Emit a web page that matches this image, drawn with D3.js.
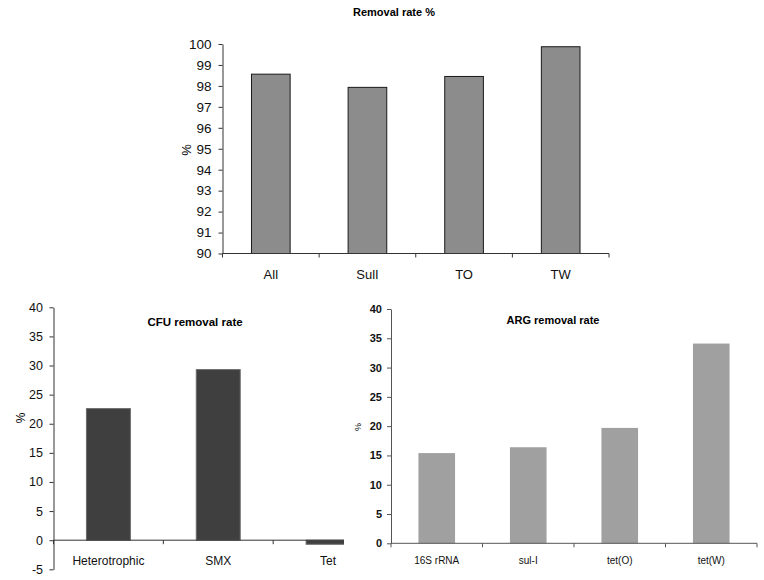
<!DOCTYPE html>
<html>
<head>
<meta charset="utf-8">
<script src="https://cdn.jsdelivr.net/npm/d3@7"></script>
<style>
  body { margin: 0; background: #fff; }
  svg { display: block; font-family: "Liberation Sans", Arial, sans-serif; }
</style>
</head>
<body>
<script>
// removal rate %
const topCats = ["All", "SulI", "TO", "TW"];
const topVals = [98.56, 97.93, 98.45, 99.87];
const topTicks = [90, 91, 92, 93, 94, 95, 96, 97, 98, 99, 100];

// CFU removal rate
const cfuCats = ["Heterotrophic", "SMX", "Tet"];
const cfuVals = [22.6, 29.3, -0.7];
const cfuTicks = [-5, 0, 5, 10, 15, 20, 25, 30, 35, 40];

// ARG removal rate
const argCats = ["16S rRNA", "sul-I", "tet(O)", "tet(W)"];
const argVals = [15.4, 16.4, 19.7, 34.1];
const argTicks = [0, 5, 10, 15, 20, 25, 30, 35, 40];

const width = 764, height = 580;

const svg = d3.select("body").append("svg")
    .attr("width", width)
    .attr("height", height);

svg.append("defs").append("clipPath")
    .attr("id", "clipLeft")
    .append("rect")
      .attr("x", 0).attr("y", 290)
      .attr("width", 344).attr("height", 290);

function panel(g, o) {
  const data = o.cats.map((c, i) => ({name: c, value: o.vals[i]}));

  const x = d3.scaleBand()
      .domain(o.cats)
      .range([o.left, o.right]);

  const y = d3.scaleLinear()
      .domain(o.domain)
      .range([o.bottom, o.top]);

  const base = y(Math.max(o.domain[0], 0));
  const bw = x.bandwidth() * 0.4;

  g.append("g")
    .selectAll("rect")
    .data(data)
    .join("rect")
      .attr("x", d => x(d.name) + (x.bandwidth() - bw) / 2)
      .attr("y", d => Math.min(y(d.value), base))
      .attr("width", bw)
      .attr("height", d => Math.abs(y(d.value) - base))
      .attr("fill", o.fill)
      .attr("stroke", o.stroke || "none")
      .attr("stroke-width", 1);

  // y axis
  g.append("g")
      .attr("transform", `translate(${o.left},0)`)
      .call(d3.axisLeft(y).tickValues(o.ticks).tickFormat(d => String(d))
        .tickSize(4).tickPadding(o.yPad).tickSizeOuter(0))
      .call(g => g.selectAll("text").style("font-size", o.tickFont + "px").attr("fill", "#111").style("font-weight", o.tickWeight || "normal"))
      .call(g => g.selectAll("line,path").attr("stroke", o.axisColor));

  // x baseline with ticks between categories
  g.append("line")
      .attr("x1", o.left).attr("x2", o.right)
      .attr("y1", base).attr("y2", base)
      .attr("stroke", o.axisColor);

  const edges = o.cats.map(c => x(c)).concat([o.right]);
  g.append("g")
    .selectAll("line")
    .data(edges)
    .join("line")
      .attr("x1", d => d).attr("x2", d => d)
      .attr("y1", base).attr("y2", base + 4)
      .attr("stroke", o.axisColor);

  // category labels
  g.append("g")
      .attr("transform", `translate(0,${base})`)
      .call(d3.axisBottom(x).tickSize(0).tickPadding(o.xPad))
      .call(g => g.select(".domain").remove())
      .call(g => g.selectAll("text").style("font-size", o.labelFont + "px").attr("fill", "#111").style("font-weight", o.labelWeight || "normal"));

  g.append("text")
      .attr("x", o.titleX)
      .attr("y", o.titleY)
      .attr("text-anchor", "middle")
      .style("font-size", o.titleFont + "px")
      .style("font-weight", "bold")
      .text(o.title);

  g.append("text")
      .attr("transform", `translate(${o.pctX},${o.pctY}) rotate(-90)`)
      .attr("text-anchor", "middle")
      .style("font-size", o.pctFont + "px")
      .text("%");
}

panel(svg.append("g"), {
  cats: topCats, vals: topVals, ticks: topTicks, domain: [90, 100],
  left: 222.5, right: 609, top: 44, bottom: 253.5,
  fill: "#8c8c8c", stroke: "#1a1a1a", axisColor: "#333",
  tickFont: 13.5, labelFont: 13, yPad: 7, xPad: 16,
  title: "Removal rate %", titleX: 394, titleY: 16, titleFont: 11,
  pctX: 191, pctY: 150, pctFont: 13
});

panel(svg.append("g").attr("clip-path", "url(#clipLeft)"), {
  cats: cfuCats, vals: cfuVals, ticks: cfuTicks, domain: [-5, 40],
  left: 53.5, right: 383, top: 307.3, bottom: 569.3,
  fill: "#3f3f3f", stroke: "#6a6a6a", axisColor: "#333",
  tickFont: 12.5, labelFont: 12, yPad: 6.5, xPad: 16,
  title: "CFU removal rate", titleX: 195, titleY: 326, titleFont: 11.5,
  pctX: 25, pctY: 418, pctFont: 12
});

panel(svg.append("g"), {
  cats: argCats, vals: argVals, ticks: argTicks, domain: [0, 40],
  left: 391, right: 757, top: 309, bottom: 543.3,
  fill: "#a0a0a0", axisColor: "#555",
  tickFont: 11, labelFont: 10, yPad: 5, xPad: 14,
  tickWeight: "bold", labelWeight: "normal",
  title: "ARG removal rate", titleX: 553, titleY: 324, titleFont: 11,
  pctX: 361, pctY: 427, pctFont: 9
});
</script>
</body>
</html>
